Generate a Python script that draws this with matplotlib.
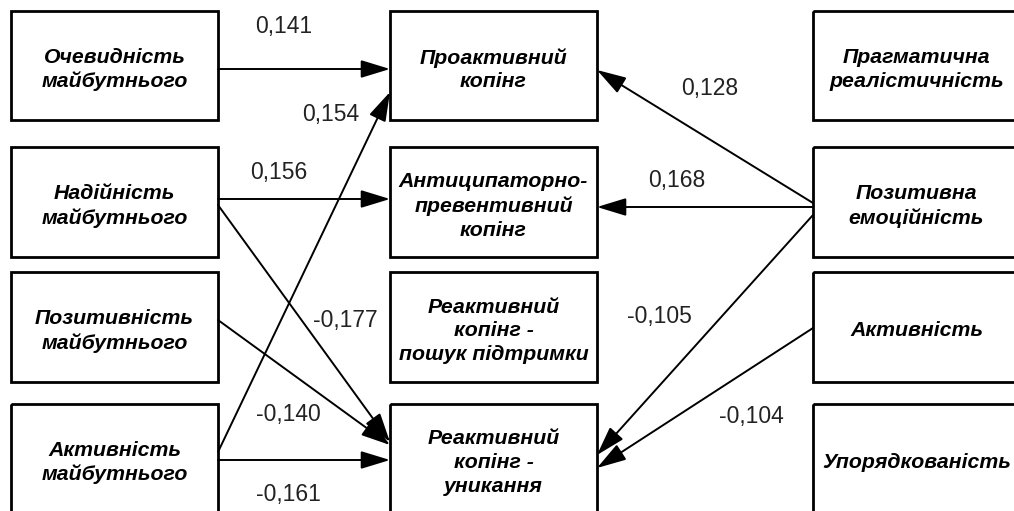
import matplotlib
matplotlib.use("Agg")
import matplotlib.pyplot as plt
from matplotlib.patches import Rectangle, FancyArrowPatch

plt.rcParams['font.family'] = ['Liberation Sans', 'DejaVu Sans']

# node labels
left_nodes = ["Очевидність\nмайбутнього", "Надійність\nмайбутнього",
              "Позитивність\nмайбутнього", "Активність\nмайбутнього"]
mid_nodes = ["Проактивний\nкопінг", "Антиципаторно-\nпревентивний\nкопінг",
             "Реактивний\nкопінг -\nпошук підтримки", "Реактивний\nкопінг -\nуникання"]
right_nodes = ["Прагматична\nреалістичність", "Позитивна\nемоційність",
               "Активність", "Упорядкованість"]

# paths: (source column, source row, target row, coefficient)
path_src = [("L", 0), ("L", 3), ("L", 1), ("L", 1), ("L", 2), ("L", 3),
            ("R", 1), ("R", 1), ("R", 1), ("R", 2)]
path_dst = [0, 0, 1, 3, 3, 3, 0, 1, 3, 3]
coefs = ["0,141", "0,154", "0,156", "-0,177", "-0,140", "-0,161",
         "0,128", "0,168", "-0,105", "-0,104"]

# layout (pixels)
col_x = {"L": (11, 218), "M": (390, 597), "R": (813, 1020)}
row_y = [(11, 120), (147, 257), (272, 382), (404, 513)]
src_y = [69, 452, 199, 205, 320, 460, 203, 207, 215, 328]
dst_y = [69, 92, 199, 442, 445, 460, 70, 207, 455, 468]
lab_xy = [(284, 27), (331, 114), (279, 172), (345, 321), (288, 415), (288, 494),
          (710, 88), (677, 181), (659, 316), (751, 416)]

fig = plt.figure(figsize=(10.14, 5.11), dpi=100)
ax = fig.add_axes([0, 0, 1, 1])
ax.set_xlim(0, 1014)
ax.set_ylim(511, 0)
ax.axis('off')

for col, names in (("L", left_nodes), ("M", mid_nodes), ("R", right_nodes)):
    x0, x1 = col_x[col]
    for i, name in enumerate(names):
        y0, y1 = row_y[i]
        ax.add_patch(Rectangle((x0, y0), x1 - x0, y1 - y0, fill=False,
                               edgecolor='black', linewidth=2.0, zorder=2))
        ax.text((x0 + x1) / 2, (y0 + y1) / 2 + 4, name, ha='center', va='center',
                fontsize=15.3, fontweight='bold', fontstyle='italic',
                linespacing=1.3, zorder=3)

for k in range(len(coefs)):
    col, r = path_src[k]
    if col == "L":
        xs = col_x["L"][1]
        xd = col_x["M"][0]
    else:
        xs = col_x["R"][0]
        xd = col_x["M"][1]
    arr = FancyArrowPatch((xs, src_y[k]), (xd, dst_y[k]),
                          arrowstyle='-|>,head_length=18,head_width=5.5',
                          mutation_scale=1, linewidth=1.4, color='black',
                          shrinkA=0, shrinkB=0, zorder=4)
    ax.add_patch(arr)
    ax.text(lab_xy[k][0], lab_xy[k][1], coefs[k], ha='center', va='center',
            fontsize=16.5, color='#222222', zorder=5)

fig.savefig("out.png", dpi=100)
